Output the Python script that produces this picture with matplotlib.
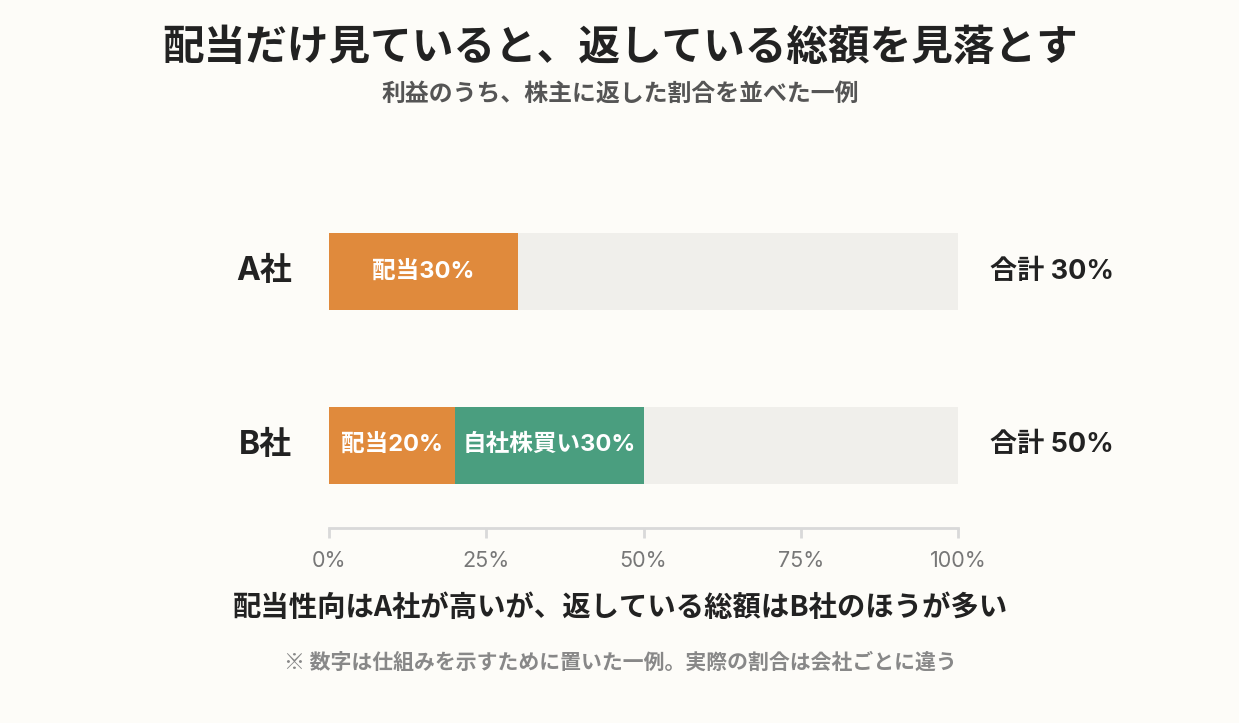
import matplotlib
matplotlib.use('Agg')
import matplotlib.pyplot as plt

# 日本語はNoto Sans CJK JP、数字まわりはInterを先に当てる
plt.rcParams['font.family'] = ['Noto Sans CJK JP', 'DejaVu Sans']
NUM = ['Inter', 'Noto Sans CJK JP']

# データ
companies = ['A社', 'B社']
dividend = [30, 20]
buyback = [0, 30]
totals = [30, 50]
ticks = [0, 25, 50, 75, 100]
tick_labels = ['0%', '25%', '50%', '75%', '100%']

bg = '#FDFCF8'
orange = '#E08A3C'
green = '#4A9E7F'
track = '#F0EFEB'
dark = '#222222'

fig = plt.figure(figsize=(12.39, 7.23), dpi=100, facecolor=bg)
W, H = 1239, 723
ax = fig.add_axes([329 / W, 1 - 528 / H, (958 - 329) / W, (528 - 220) / H])
ax.set_facecolor(bg)

y = list(range(len(companies)))
h = 0.444

# 背景のトラック
ax.barh(y, [100] * len(y), height=h, color=track, zorder=1)
ax.barh(y, dividend, height=h, color=orange, zorder=2)
ax.barh(y, buyback, left=dividend, height=h, color=green, zorder=2)

for i in y:
    ax.text(dividend[i] / 2, i, f'配当{dividend[i]}%', ha='center', va='center',
            color='white', fontsize=17, fontweight='bold', family=NUM, zorder=3)
    if buyback[i] > 0:
        ax.text(dividend[i] + buyback[i] / 2, i, f'自社株買い{buyback[i]}%',
                ha='center', va='center', color='white', fontsize=17,
                fontweight='bold', family=NUM, zorder=3)
    ax.text(-5.9, i, companies[i], ha='right', va='center', color=dark,
            fontsize=23, fontweight='bold', family=NUM)
    ax.text(105.1, i, f'合計 {totals[i]}%', ha='left', va='center', color=dark,
            fontsize=19.5, fontweight='bold', family=NUM)

ax.set_xlim(0, 100)
ax.set_ylim(1.478, -0.297)
ax.set_yticks([])
ax.set_xticks(ticks)
ax.set_xticklabels(tick_labels, color='#777777', fontsize=15.5, family=NUM)
for s in ['top', 'left', 'right']:
    ax.spines[s].set_visible(False)
ax.spines['bottom'].set_color('#D9D9D9')
ax.spines['bottom'].set_linewidth(2)
ax.tick_params(axis='x', length=7.5, width=2, color='#D9D9D9', pad=9)

fig.text(620 / W, 1 - 48 / H, '配当だけ見ていると、返している総額を見落とす',
         ha='center', va='center', fontsize=30, fontweight='bold', color=dark)
fig.text(620 / W, 1 - 94 / H, '利益のうち、株主に返した割合を並べた一例',
         ha='center', va='center', fontsize=17.2, fontweight='bold', color='#555555')
fig.text(620 / W, 1 - 608 / H, '配当性向はA社が高いが、返している総額はB社のほうが多い',
         ha='center', va='center', fontsize=20.4, fontweight='bold', color=dark)
fig.text(620 / W, 1 - 662 / H, '※ 数字は仕組みを示すために置いた一例。実際の割合は会社ごとに違う',
         ha='center', va='center', fontsize=15, fontweight='bold', color='#888888')

fig.savefig('out.png', dpi=100, facecolor=bg)
